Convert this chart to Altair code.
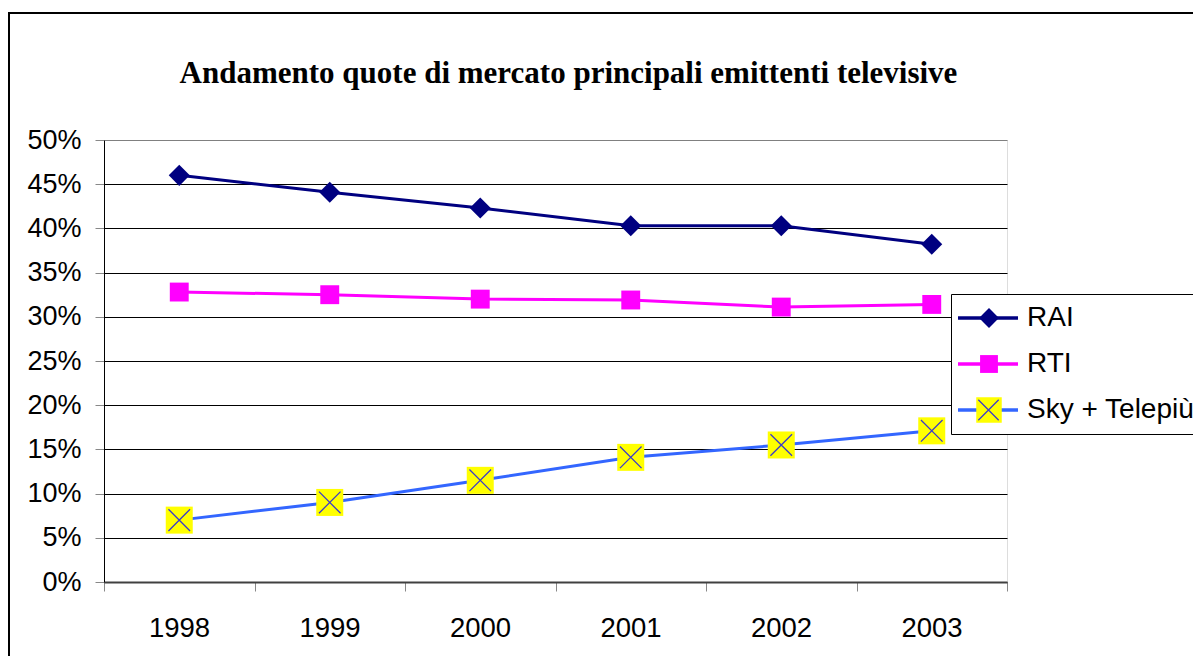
import altair as alt
import pandas as pd

years = [1998, 1999, 2000, 2001, 2002, 2003]
rai = [0.460, 0.441, 0.423, 0.403, 0.403, 0.382]
rti = [0.328, 0.325, 0.320, 0.319, 0.311, 0.314]
sky = [0.070, 0.090, 0.115, 0.141, 0.155, 0.171]
series_names = ["RAI", "RTI", "Sky + Telepiù"]
line_colors = ["#000080", "#FF00FF", "#3366FF"]
marker_fills = ["#000080", "#FF00FF", "#FFFF00"]
x_tick_values = [1997.5, 1998.5, 1999.5, 2000.5, 2001.5, 2002.5, 2003.5]
y_tick_values = [0, 0.05, 0.10, 0.15, 0.20, 0.25, 0.30, 0.35, 0.40, 0.45, 0.50]
title_text = "Andamento quote di mercato principali emittenti televisive"

rows = []
for name, vals in zip(series_names, [rai, rti, sky]):
    for yr, v in zip(years, vals):
        rows.append({"year": yr, "share": v, "series": name, "series_m": name, "series_x": name})
df = pd.DataFrame(rows)

diamond_path = "M-0.78,0L0,-0.78L0.78,0L0,0.78Z"
rti_square = "M-0.7,-0.7H0.7V0.7H-0.7Z"
sky_square = "M-1,-1H1V1H-1Z"
x_path = "M-0.8,-0.8L0.8,0.8M-0.8,0.8L0.8,-0.8"

FONT = "Liberation Sans"

x_enc = alt.X(
    "year:Q",
    scale=alt.Scale(domain=[1997.5, 2003.5], nice=False, zero=False),
    axis=alt.Axis(
        values=x_tick_values, title=None, grid=False,
        labelExpr="datum.value < 2003 ? format(datum.value + 0.5, 'd') : ''",
        labelOffset=75, tickSize=9, labelFlush=False, labelOverlap=False, labelBound=False,
        labelFontSize=27.5, labelPadding=23, domainColor="#404040", domainWidth=2,
    ),
)
y_enc = alt.Y(
    "share:Q",
    scale=alt.Scale(domain=[0, 0.5], nice=False, zero=True),
    axis=alt.Axis(
        values=y_tick_values, format=".0%", title=None, grid=True,
        gridColor={"condition": {"test": "datum.value >= 0.5", "value": "#808080"}, "value": "black"},
        tickSize=9, labelFontSize=27, labelPadding=14, domainColor="black",
    ),
)

LX = 847
LY = 154
CLIP_H = 38
ROW_PAD = 8
PAD = 5

common_leg = dict(
    title=None, orient="none", legendX=LX, legendY=LY, padding=PAD,
    clipHeight=CLIP_H, rowPadding=ROW_PAD, labelFontSize=28, labelFont=FONT,
    labelLimit=500,
)

lines = alt.Chart(df).mark_line(strokeWidth=3).encode(
    x=x_enc, y=y_enc,
    color=alt.Color(
        "series:N",
        scale=alt.Scale(range=line_colors),
        legend=alt.Legend(
            symbolType="stroke", symbolSize=3600, symbolStrokeWidth=3.5, symbolOffset=0,
            labelColor="black", labelOffset=7,
            fillColor="white", strokeColor="black", zindex=0, **common_leg,
        ),
    ),
)

marker_legend = alt.Legend(
    symbolSize=650, symbolStrokeWidth=0, symbolOpacity=1, symbolOffset=19,
    labelExpr="''", zindex=1, **common_leg,
)

markers = alt.Chart(df).mark_point(filled=True, size=729, opacity=1, strokeWidth=0).encode(
    x=x_enc, y=y_enc,
    fill=alt.Fill("series_m:N", scale=alt.Scale(range=marker_fills), legend=marker_legend),
    shape=alt.Shape(
        "series_m:N",
        scale=alt.Scale(range=[diamond_path, rti_square, sky_square]),
        legend=marker_legend,
    ),
)

crosses = alt.Chart(df[df["series"] == "Sky + Telepiù"]).mark_point(
    filled=False, shape=x_path, size=729, strokeWidth=1.3, opacity=1
).encode(
    x=x_enc, y=y_enc,
    stroke=alt.Stroke(
        "series_x:N",
        scale=alt.Scale(domain=series_names, range=["transparent", "transparent", "#3C3CC8"]),
        legend=alt.Legend(
            symbolType=x_path, symbolSize=650, symbolStrokeWidth=1.3, symbolOffset=18.5,
            labelExpr="''", zindex=2, **common_leg,
        ),
    ),
)

frame = alt.Chart(pd.DataFrame({"k": [0]})).mark_rect(
    fill="transparent", stroke="black", strokeWidth=2, clip=False
).encode(x=alt.value(-95), x2=alt.value(1150), y=alt.value(-127), y2=alt.value(620))

chart = alt.layer(frame, lines, markers, crosses).properties(
    width=903, height=442,
    autosize=alt.AutoSizeParams(type="none"),
    padding={"left": 96, "top": 132, "right": 186, "bottom": 74},
    title=alt.TitleParams(
        title_text, font="Liberation Serif", fontSize=31, fontWeight="bold", color="black",
        anchor="middle", frame="group", offset=-102, baseline="alphabetic", dx=13,
    ),
).configure_view(
    fill="#C0C0C0", stroke="#808080", strokeWidth=1
).configure_axis(
    labelFont=FONT, labelColor="black", tickColor="black", tickWidth=1, domainWidth=1,
).configure(background="white")

chart.save("out.html", embed_options={"renderer": "svg", "actions": False})
